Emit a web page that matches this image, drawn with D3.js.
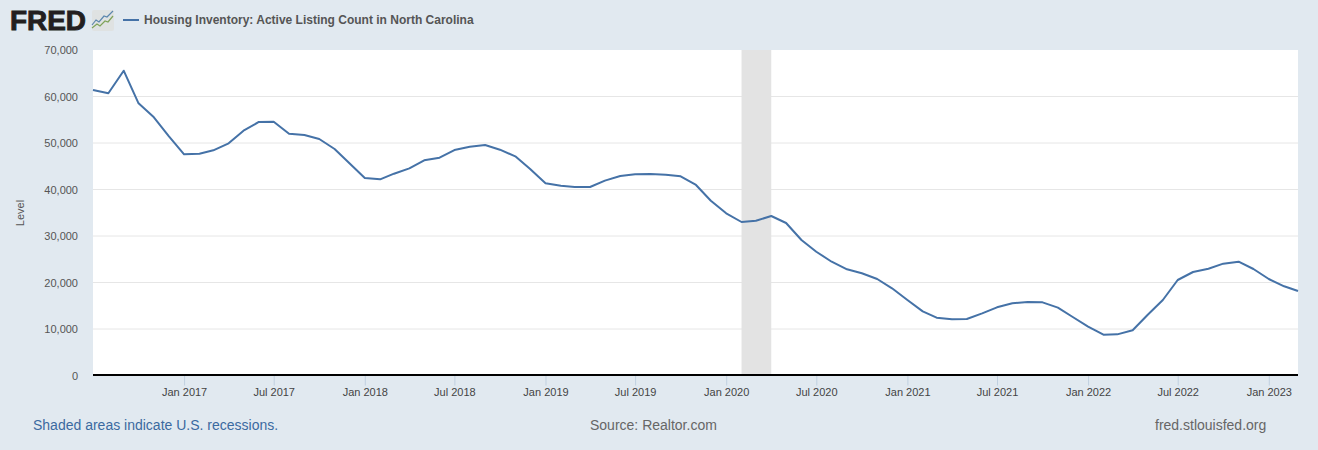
<!DOCTYPE html>
<html>
<head>
<meta charset="utf-8">
<script src="https://cdn.jsdelivr.net/npm/d3@7"></script>
<style>
  html, body { margin: 0; padding: 0; background: #e1e9f0; }
  svg { display: block; }
  text { font-family: "Liberation Sans", Arial, sans-serif; }
</style>
</head>
<body>
<svg id="chart" width="1318" height="450"></svg>
<script>
const startMonth = '2016-07-01'
const endMonth = '2023-03-01'

const listingCount = [
  61400, 60690, 65550, 58530, 55520, 51500,
  47570, 47700, 48430, 49930, 52650, 54520, 54580, 52000, 51720, 50860, 48710, 45630,
  42470, 42190, 43400, 44550, 46270, 46840, 48490, 49200, 49570, 48560, 47130, 44400,
  41330, 40820, 40540, 40540, 41900, 42900, 43260, 43330, 43190, 42830, 40970, 37590,
  34880, 33010, 33290, 34300, 32800, 29140, 26620, 24470, 22840, 21980, 20750, 18750,
  16240, 13800, 12430, 12080, 12150, 13370, 14660, 15520, 15800, 15730, 14590, 12580,
  10500, 8780, 8850, 9720, 13010, 16240, 20540, 22260, 22970, 24050, 24470, 22900,
  20750, 19180, 18170
]

const yTicks = [0, 10000, 20000, 30000, 40000, 50000, 60000, 70000]
const xTickDates = [
  '2017-01-01', '2017-07-01', '2018-01-01', '2018-07-01', '2019-01-01', '2019-07-01',
  '2020-01-01', '2020-07-01', '2021-01-01', '2021-07-01', '2022-01-01', '2022-07-01', '2023-01-01'
]
const recessions = [['2020-02-01', '2020-04-01']]

const parseDate = d3.utcParse('%Y-%m-%d')
const months = d3.utcMonth.range(parseDate(startMonth), d3.utcMonth.offset(parseDate(endMonth), 1))

const svg = d3.select('#chart')
const plot = { left: 93, right: 1298, top: 50, bottom: 375.5 }

const x = d3.scaleUtc()
  .domain([parseDate(startMonth), parseDate(endMonth)])
  .range([plot.left, plot.right])
const y = d3.scaleLinear()
  .domain([0, 70000])
  .range([plot.bottom, plot.top])

svg.append('rect')
  .attr('x', plot.left)
  .attr('y', plot.top)
  .attr('width', plot.right - plot.left)
  .attr('height', plot.bottom - plot.top)
  .attr('fill', '#fff')

const yAxis = svg.append('g')
  .attr('transform', `translate(${plot.left},0)`)
  .call(d3.axisLeft(y).tickValues(yTicks).tickFormat(d3.format(',')).tickSize(0).tickPadding(15))
yAxis.select('.domain').remove()
yAxis.selectAll('text')
  .attr('font-size', 11)
  .attr('fill', '#555')
  .attr('font-family', '"Liberation Sans", Arial, sans-serif')

svg.append('g')
  .selectAll('line')
  .data(yTicks.filter(d => d > 0 && d < 70000))
  .enter()
  .append('line')
  .attr('x1', plot.left)
  .attr('x2', plot.right)
  .attr('y1', d => y(d))
  .attr('y2', d => y(d))
  .attr('stroke', '#e6e6e6')
  .attr('stroke-width', 1)

// recession bands cover the grid
svg.append('g')
  .selectAll('rect')
  .data(recessions)
  .enter()
  .append('rect')
  .attr('x', d => x(parseDate(d[0])))
  .attr('y', plot.top)
  .attr('width', d => x(parseDate(d[1])) - x(parseDate(d[0])))
  .attr('height', plot.bottom - plot.top)
  .attr('fill', '#e3e3e3')

const xAxis = svg.append('g')
  .attr('transform', `translate(0,${plot.bottom})`)
  .call(d3.axisBottom(x)
    .tickValues(xTickDates.map(parseDate))
    .tickFormat(d3.utcFormat('%b %Y'))
    .tickSize(10)
    .tickPadding(3))
xAxis.select('.domain').remove()
xAxis.selectAll('line').attr('stroke', '#c0d0e0')
xAxis.selectAll('text')
  .attr('font-size', 11)
  .attr('fill', '#444')
  .attr('font-family', '"Liberation Sans", Arial, sans-serif')

svg.append('line')
  .attr('x1', plot.left)
  .attr('x2', plot.right)
  .attr('y1', plot.bottom - 0.5)
  .attr('y2', plot.bottom - 0.5)
  .attr('stroke', '#000')
  .attr('stroke-width', 2)

const line = d3.line()
  .x((d, i) => x(months[i]))
  .y(d => y(d))

svg.append('path')
  .datum(listingCount)
  .attr('d', line)
  .attr('fill', 'none')
  .attr('stroke', '#4572a7')
  .attr('stroke-width', 2)
  .attr('stroke-linejoin', 'round')

svg.append('text')
  .attr('transform', 'translate(24,213) rotate(-90)')
  .attr('text-anchor', 'middle')
  .attr('font-size', 11)
  .attr('fill', '#555')
  .text('Level')

// header: logo and legend
svg.append('text')
  .attr('x', 10)
  .attr('y', 30)
  .attr('font-size', 27)
  .attr('font-weight', 'bold')
  .attr('fill', '#231f20')
  .attr('stroke', '#231f20')
  .attr('stroke-width', 0.9)
  .attr('textLength', 76)
  .attr('lengthAdjust', 'spacingAndGlyphs')
  .text('FRED')

const logo = svg.append('g').attr('transform', 'translate(92,10)')
logo.append('rect')
  .attr('width', 22)
  .attr('height', 21)
  .attr('rx', 2)
  .attr('fill', '#dfe2e2')
logo.append('path')
  .attr('d', 'M0,15 L4,10 L7,12 L12,6 L15,7 L21,1')
  .attr('fill', 'none')
  .attr('stroke', '#5b86ad')
  .attr('stroke-width', 1.2)
logo.append('path')
  .attr('d', 'M0,18 L5,14 L8,16 L13,11 L16,12 L21,6')
  .attr('fill', 'none')
  .attr('stroke', '#7fa35a')
  .attr('stroke-width', 1.2)

svg.append('line')
  .attr('x1', 123)
  .attr('x2', 139)
  .attr('y1', 20)
  .attr('y2', 20)
  .attr('stroke', '#4572a7')
  .attr('stroke-width', 2)

svg.append('text')
  .attr('x', 144)
  .attr('y', 24)
  .attr('font-size', 12)
  .attr('font-weight', 'bold')
  .attr('fill', '#555')
  .text('Housing Inventory: Active Listing Count in North Carolina')

// footer
const footer = [
  { label: 'Shaded areas indicate U.S. recessions.', left: 33, color: '#3b6aa0' },
  { label: 'Source: Realtor.com', left: 590, color: '#666' },
  { label: 'fred.stlouisfed.org', left: 1155, color: '#666' }
]
svg.append('g')
  .selectAll('text')
  .data(footer)
  .enter()
  .append('text')
  .attr('x', d => d.left)
  .attr('y', 430)
  .attr('font-size', 14)
  .attr('fill', d => d.color)
  .text(d => d.label)
</script>
</body>
</html>
